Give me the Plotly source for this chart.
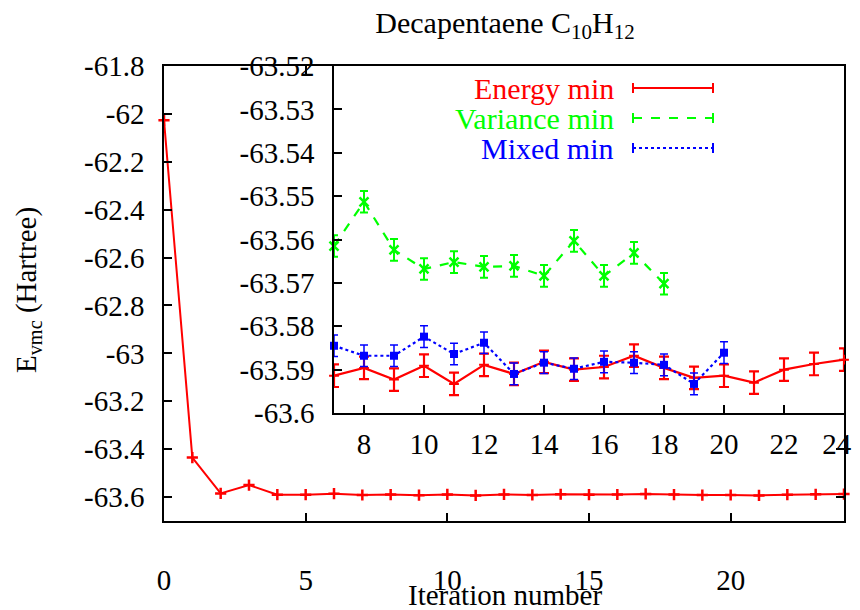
import plotly.graph_objects as go

# ---- data ----
main_iter = list(range(0, 25))
main_energy = [-62.027, -63.435, -63.585, -63.550, -63.590, -63.590, -63.586,
               -63.5914, -63.5896, -63.5923, -63.5891, -63.5933, -63.5889, -63.5910,
               -63.5882, -63.5900, -63.5894, -63.5868, -63.5896, -63.5919, -63.5914,
               -63.5930, -63.5900, -63.5887, -63.5877]

energy_x = list(range(7, 25))
energy_y = [-63.5914, -63.5896, -63.5923, -63.5891, -63.5933, -63.5889, -63.5910,
            -63.5882, -63.5900, -63.5894, -63.5868, -63.5896, -63.5919, -63.5914,
            -63.5930, -63.5900, -63.5887, -63.5877]
energy_err = [0.0026] * len(energy_x)

variance_x = list(range(7, 19))
variance_y = [-63.5615, -63.5513, -63.5624, -63.5668, -63.5652, -63.5663, -63.5661,
              -63.5684, -63.5603, -63.5684, -63.5631, -63.5702]
variance_err = [0.0025] * len(variance_x)

mixed_x = list(range(7, 21))
mixed_y = [-63.5845, -63.5868, -63.5868, -63.5824, -63.5864, -63.5838, -63.5910,
           -63.5884, -63.5898, -63.5882, -63.5884, -63.5889, -63.5933, -63.5861]
mixed_err = [0.0025] * len(mixed_x)

main_xticks = [0, 5, 10, 15, 20]
main_yticks = [-61.8, -62.0, -62.2, -62.4, -62.6, -62.8, -63.0, -63.2, -63.4, -63.6]
main_yticktext = ["-61.8", "-62", "-62.2", "-62.4", "-62.6", "-62.8", "-63", "-63.2", "-63.4", "-63.6"]
inset_xticks = [8, 10, 12, 14, 16, 18, 20, 22, 24]
inset_xticktext = ["8", "10", "12", "14", "16", "18", "20", "22", "24\u2002"]
inset_yticks = [-63.52, -63.53, -63.54, -63.55, -63.56, -63.57, -63.58, -63.59, -63.60]
inset_yticktext = ["-63.52", "-63.53", "-63.54", "-63.55", "-63.56", "-63.57", "-63.58", "-63.59", "-63.6"]

legend_names = ["Energy min", "Variance min", "Mixed min"]

RED, GREEN, BLUE = "#ff0000", "#00ff00", "#0000ff"
FONT = "Liberation Serif"
FS = 29

# page body has an 8px margin; lay out in screenshot pixel coordinates
OFF = 8
W, H = 860 - OFF, 610 - OFF
L, R, T, B = 164 - OFF, 16, 66 - OFF, 89
PW, PH = W - L - R, H - T - B


def px(x):
    return (x - OFF - L) / PW


def py(y):
    return (H - B - (y - OFF)) / PH


fig = go.Figure()

# main curve
fig.add_trace(go.Scatter(
    x=main_iter, y=main_energy, mode="lines+markers",
    line=dict(color=RED, width=2),
    marker=dict(symbol="cross-thin-open", size=8, color=RED, line=dict(color=RED, width=2.5)),
    xaxis="x", yaxis="y", showlegend=False, cliponaxis=False))

# inset curves
fig.add_trace(go.Scatter(
    x=energy_x, y=energy_y, mode="lines+markers",
    line=dict(color=RED, width=2.2),
    marker=dict(symbol="cross-thin-open", size=7, color=RED, line=dict(color=RED, width=2)),
    error_y=dict(type="data", array=energy_err, visible=True, color=RED, thickness=2.2, width=5),
    xaxis="x2", yaxis="y2", showlegend=False, cliponaxis=False))
fig.add_trace(go.Scatter(
    x=variance_x, y=variance_y, mode="lines+markers",
    line=dict(color=GREEN, width=2.2, dash="dash"),
    marker=dict(symbol="x-thin-open", size=9, color=GREEN, line=dict(color=GREEN, width=2.5)),
    error_y=dict(type="data", array=variance_err, visible=True, color=GREEN, thickness=2, width=4),
    xaxis="x2", yaxis="y2", showlegend=False, cliponaxis=False))
fig.add_trace(go.Scatter(
    x=mixed_x, y=mixed_y, mode="lines+markers",
    line=dict(color=BLUE, width=2.2, dash="dot"),
    marker=dict(symbol="square", size=8, color=BLUE),
    error_y=dict(type="data", array=mixed_err, visible=True, color=BLUE, thickness=1.5, width=4),
    xaxis="x2", yaxis="y2", showlegend=False, cliponaxis=False))

# legend keys (drawn gnuplot style: text on left, sample on right)
leg_rows = [88, 118, 148]
leg_colors = [RED, GREEN, BLUE]
leg_dash = ["solid", "dash", "dot"]
leg_sym = ["line-ns-open", "x-thin-open", "square"]
x0, x1, xm, xt = 633, 713, 673, 616
shapes = []
annotations = []
for name, yy, c, d in zip(legend_names, leg_rows, leg_colors, leg_dash):
    annotations.append(dict(text=name, x=px(xt), y=py(yy), xref="paper", yref="paper",
                            xanchor="right", yanchor="middle", showarrow=False,
                            font=dict(family=FONT, size=30, color=c)))
    shapes.append(dict(type="line", xref="paper", yref="paper", x0=px(x0), x1=px(x1),
                       y0=py(yy), y1=py(yy), line=dict(color=c, width=2.2, dash=d)))
    for xe in (x0, x1):
        shapes.append(dict(type="line", xref="paper", yref="paper", x0=px(xe), x1=px(xe),
                           y0=py(yy - 5), y1=py(yy + 5), line=dict(color=c, width=2)))
fig.add_trace(go.Scatter(
    x=[px(xm)] * 3, y=[py(v) for v in leg_rows], mode="markers",
    marker=dict(symbol=leg_sym, size=[10, 9, 8], color=leg_colors,
                line=dict(color=leg_colors, width=2.5)),
    xaxis="x3", yaxis="y3", showlegend=False, hoverinfo="skip", cliponaxis=False))

# axis titles as annotations (fixed placement)
annotations.append(dict(text="Iteration number", x=px(505), y=py(595), xref="paper", yref="paper",
                        xanchor="center", yanchor="middle", showarrow=False,
                        font=dict(family=FONT, size=FS, color="black")))
annotations.append(dict(text="E<sub>vmc</sub> (Hartree)", x=px(28), y=py(290), xref="paper", yref="paper",
                        xanchor="center", yanchor="middle", showarrow=False, textangle=-90,
                        font=dict(family=FONT, size=FS, color="black")))

# inset placement
ix0, iy1 = px(334), py(413)

axis_common = dict(showgrid=False, zeroline=False, ticks="inside", ticklen=8, automargin=False,
                   tickwidth=1.5, tickcolor="black", linecolor="black", linewidth=1.5,
                   ticklabeloverflow="allow",
                   tickfont=dict(family=FONT, size=FS, color="black"))

fig.update_layout(
    width=W, height=H,
    margin=dict(l=L, r=R, t=T, b=B, autoexpand=False),
    paper_bgcolor="white", plot_bgcolor="white",
    showlegend=False,
    title=dict(text="Decapentaene C<sub>10</sub>H<sub>12</sub>", x=px(505), xanchor="center",
               xref="paper", y=1 - (22 - OFF) / H, yanchor="middle",
               font=dict(family=FONT, size=30, color="black")),
    xaxis=dict(domain=[0, 1], range=[0, 24], tickvals=main_xticks,
               showline=True, mirror="ticks", ticklabelstandoff=32, **axis_common),
    yaxis=dict(domain=[0, 1], range=[-63.7, -61.8], tickvals=main_yticks, ticktext=main_yticktext,
               showline=True, mirror="ticks", ticklabelstandoff=12, **axis_common),
    xaxis2=dict(domain=[ix0, 1], range=[7, 24], tickvals=inset_xticks, ticktext=inset_xticktext,
                anchor="y2", showline=True, mirror=False, ticklabelstandoff=4, **axis_common),
    yaxis2=dict(domain=[iy1, 1], range=[-63.60, -63.52], tickvals=inset_yticks, ticktext=inset_yticktext,
                anchor="x2", showline=True, mirror=False, ticklabelstandoff=12, **axis_common),
    xaxis3=dict(domain=[0, 1], range=[0, 1], visible=False, anchor="y3", overlaying="x"),
    yaxis3=dict(domain=[0, 1], range=[0, 1], visible=False, anchor="x3", overlaying="y"),
    shapes=shapes,
    annotations=annotations,
)

fig.write_html("out.html")
